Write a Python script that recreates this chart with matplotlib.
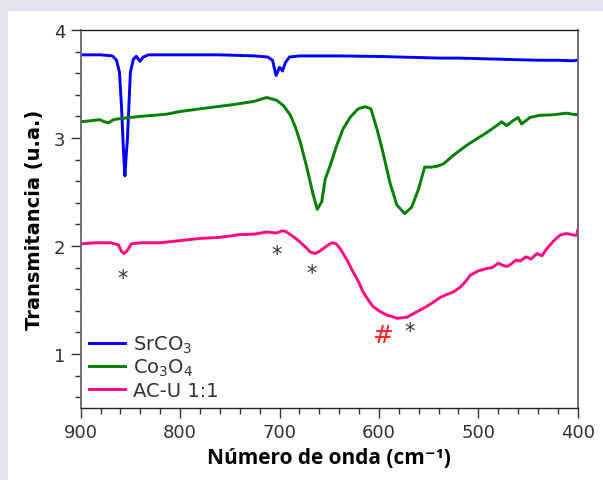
import matplotlib

matplotlib.use("Agg")
import matplotlib.pyplot as plt
from matplotlib.patches import Rectangle
from matplotlib.ticker import MultipleLocator

# wavenumber (cm-1) / transmittance (u.a.)
blue_x = [900, 880, 868, 864, 861, 859, 857.5, 856.5, 855.5, 854.5,
          853, 851.5, 850, 847, 844, 840.5, 837, 832, 800, 760,
          725, 712, 707, 705, 703.5, 701.5, 700, 698.5, 697, 694,
          690, 680, 640, 600, 580, 560, 540, 520, 500, 480,
          460, 440, 420, 405, 400]
blue_y = [3.77, 3.77, 3.76, 3.72, 3.61, 3.30, 2.99, 2.80, 2.65, 2.80,
          2.99, 3.30, 3.61, 3.73, 3.757, 3.71, 3.75, 3.77, 3.77, 3.77,
          3.76, 3.75, 3.72, 3.64, 3.58, 3.62, 3.655, 3.64, 3.62, 3.70,
          3.75, 3.76, 3.76, 3.755, 3.75, 3.745, 3.74, 3.74, 3.735, 3.73,
          3.725, 3.72, 3.72, 3.715, 3.72]

green_x = [900, 890, 881, 876, 872, 867, 860, 840, 814, 800,
           780, 746, 725, 713, 703, 696, 689, 684, 679, 673,
           666, 662, 657.5, 654, 649, 642.5, 636, 629, 621, 614,
           608, 602, 596, 589, 582, 574, 567, 560, 554, 547,
           541, 535, 525, 512, 502, 491.5, 481.5, 476.5, 471.5, 465,
           460, 456.5, 448, 438, 425, 411, 405, 401, 400]
green_y = [3.15, 3.16, 3.17, 3.15, 3.14, 3.17, 3.18, 3.20, 3.22, 3.245,
           3.27, 3.31, 3.34, 3.375, 3.35, 3.30, 3.21, 3.10, 2.96, 2.745,
           2.47, 2.34, 2.41, 2.62, 2.745, 2.93, 3.085, 3.19, 3.27, 3.29,
           3.27, 3.085, 2.87, 2.59, 2.38, 2.30, 2.36, 2.53, 2.73, 2.73,
           2.74, 2.76, 2.84, 2.93, 2.99, 3.05, 3.115, 3.15, 3.115, 3.16,
           3.19, 3.13, 3.19, 3.21, 3.215, 3.23, 3.22, 3.215, 3.22]

pink_x = [900, 885, 870, 862, 859, 856, 853, 849, 840, 820,
          800, 780, 760, 740, 725, 713, 703, 698, 694, 688,
          681, 675, 669, 664, 660, 656, 651, 647, 643, 639,
          632, 626, 620, 616, 610, 606, 600, 592, 586, 582,
          577, 572, 565, 558, 552, 545, 539, 532, 525, 518,
          512, 508, 500, 492, 486, 480, 475, 471, 466, 462,
          458, 452, 447, 441, 436, 431, 425, 418, 412, 408,
          404, 401, 400]
pink_y = [2.02, 2.03, 2.03, 2.01, 1.95, 1.93, 1.96, 2.02, 2.03, 2.03,
          2.05, 2.07, 2.08, 2.105, 2.11, 2.13, 2.12, 2.14, 2.135, 2.10,
          2.05, 2.00, 1.945, 1.93, 1.95, 1.976, 2.01, 2.03, 2.02, 1.976,
          1.87, 1.76, 1.66, 1.576, 1.49, 1.44, 1.40, 1.36, 1.345, 1.33,
          1.335, 1.34, 1.375, 1.41, 1.44, 1.48, 1.52, 1.55, 1.575, 1.62,
          1.68, 1.73, 1.77, 1.79, 1.80, 1.84, 1.82, 1.81, 1.84, 1.87,
          1.86, 1.90, 1.88, 1.93, 1.91, 1.976, 2.04, 2.10, 2.115, 2.11,
          2.10, 2.10, 2.145]

series_labels = [r"SrCO$_3$", r"Co$_3$O$_4$", "AC-U 1:1"]

# band markers: (x, y) of the '*' signs and the '#' sign
star_x = [858, 703, 668, 569]
star_y = [1.70, 1.93, 1.75, 1.21]
hash_x = [596]
hash_y = [1.175]

plt.rcParams["font.family"] = ["DejaVu Sans"]
plt.rcParams["mathtext.fontset"] = "dejavusans"

fig = plt.figure(figsize=(6.03, 4.81), dpi=100, facecolor="#e4e0ec")
fig.patches.append(Rectangle((8 / 603, 0), 1, 1 - 12 / 481, transform=fig.transFigure,
                             facecolor="white", edgecolor="none", zorder=-10))
ax = fig.add_axes([80.7 / 603, 1 - 409 / 481, 497 / 603, 378 / 481])
ax.set_facecolor("none")

ax.plot(blue_x, blue_y, color="#0000ff", lw=2.1, label=series_labels[0])
ax.plot(green_x, green_y, color="#008000", lw=2.1, label=series_labels[1])
ax.plot(pink_x, pink_y, color="#ff0a82", lw=2.1, label=series_labels[2])

for x, y in zip(star_x, star_y):
    ax.text(x, y, "*", fontsize=15, color="#333333", ha="center", va="center")
for x, y in zip(hash_x, hash_y):
    ax.text(x, y, "#", fontsize=18, color="#ff2020", ha="center", va="center")

ax.set_xlim(900, 400)
ax.set_ylim(0.5, 4)
ax.xaxis.set_major_locator(MultipleLocator(100))
ax.xaxis.set_minor_locator(MultipleLocator(20))
ax.yaxis.set_major_locator(MultipleLocator(1))
ax.yaxis.set_minor_locator(MultipleLocator(0.2))
ax.tick_params(which="major", direction="out", length=7.5, width=1, labelsize=13,
               labelcolor="#333333", color="#333333")
ax.tick_params(which="minor", direction="out", length=4.5, width=1, color="#333333")
ax.tick_params(top=False, right=False)

for side in ["left", "right"]:
    ax.spines[side].set_color("#666666")
    ax.spines[side].set_linewidth(1.3)
for side in ["top", "bottom"]:
    ax.spines[side].set_color("#222222")
    ax.spines[side].set_linewidth(1.0)

ax.set_xlabel("Número de onda (cm⁻¹)", labelpad=4, family=["Open Sans", "DejaVu Sans"],
              fontsize=15, fontweight="bold", color="black")
ax.set_ylabel("Transmitancia (u.a.)", labelpad=7, family=["DejaVu Sans"],
              fontsize=14, fontweight="bold", color="black")

ax.legend(loc="lower left", bbox_to_anchor=(0, 0), frameon=False, fontsize=14,
          handlelength=1.85, handletextpad=0.4, labelspacing=0.12,
          borderaxespad=0, borderpad=0.43, labelcolor="#333333")

fig.savefig("out.png", dpi=100, facecolor=fig.get_facecolor())
